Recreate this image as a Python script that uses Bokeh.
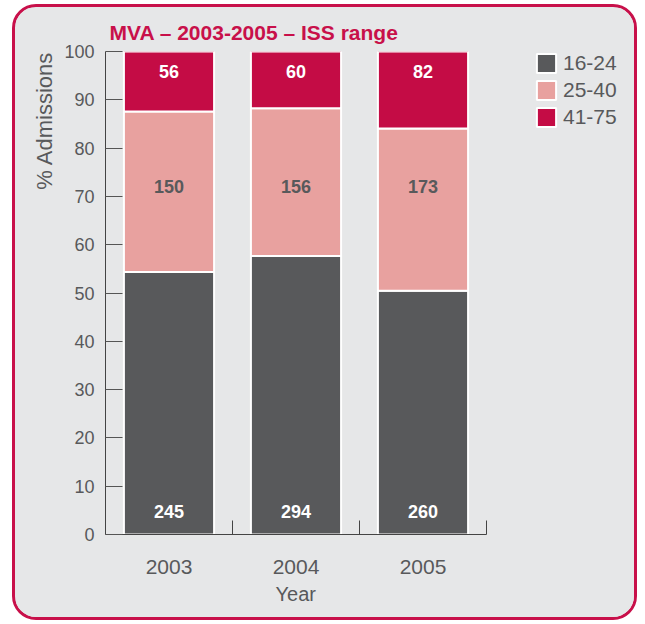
import math
from bokeh.plotting import figure
from bokeh.models import (Range1d, FixedTicker, Legend, LegendItem, Title, ColumnDataSource)
from bokeh.core.properties import value
from bokeh.embed import file_html
from bokeh.resources import INLINE

# ---- data ----
years = ["2003", "2004", "2005"]
groups = ["16-24", "25-40", "41-75"]
count_16_24 = [245, 294, 260]
count_25_40 = [150, 156, 173]
count_41_75 = [56, 60, 82]
y_ticks = [0, 10, 20, 30, 40, 50, 60, 70, 80, 90, 100]

FONT = value("Liberation Sans")
BG = "#e6e7e8"
DARK = "#58595b"
PINK = "#e8a19f"
CRIMSON = "#c40c45"
TXT = "#58595b"

n = len(years)
totals = [a + b + c for a, b, c in zip(count_16_24, count_25_40, count_41_75)]
xpos = [i + 0.5 for i in range(n)]
src = ColumnDataSource(dict(
    x=xpos,
    p1=[100.0 * a / t for a, t in zip(count_16_24, totals)],
    p2=[100.0 * b / t for b, t in zip(count_25_40, totals)],
    p3=[100.0 * c / t for c, t in zip(count_41_75, totals)],
    c1=[str(v) for v in count_16_24],
    c2=[str(v) for v in count_25_40],
    c3=[str(v) for v in count_41_75],
))

# frame: 127 px per category; extended to the right to hold the legend
x_end = n * 521.0 / 381.0
p = figure(width=625, height=616, output_backend="svg", toolbar_location=None,
           x_range=Range1d(0, x_end), y_range=Range1d(0, 100),
           min_border_left=90, min_border_right=14, min_border_top=44, min_border_bottom=89,
           background_fill_color=BG, border_fill_color=BG, outline_line_color=None)
p.styles = {"margin-left": "12px", "margin-top": "4px", "border": "3px solid #c8104a",
            "border-radius": "24px", "overflow": "hidden", "background-color": BG}
p.grid.visible = False

rs = p.vbar_stack(["p1", "p2", "p3"], x="x", width=0.71, source=src,
                  color=[DARK, PINK, CRIMSON], line_color="white", line_width=2)

# bar value labels
p.text(x="x", y=95.8, text="c3", source=src, text_font=FONT, text_font_style="bold",
       text_font_size="18px", text_color="white", text_align="center", text_baseline="middle")
p.text(x="x", y=72.0, text="c2", source=src, text_font=FONT, text_font_style="bold",
       text_font_size="18px", text_color=TXT, text_align="center", text_baseline="middle")
p.text(x="x", y=4.7, text="c1", source=src, text_font=FONT, text_font_style="bold",
       text_font_size="18px", text_color="white", text_align="center", text_baseline="middle")

# y axis
ya = p.yaxis[0]
ya.ticker = FixedTicker(ticks=y_ticks)
ya.major_tick_in = 17
ya.major_tick_out = 0
ya.minor_tick_in = 0
ya.minor_tick_out = 0
ya.axis_line_color = "#444444"
ya.major_tick_line_color = "#555555"
ya.major_label_text_font = "Liberation Sans"
ya.major_label_text_font_size = "18px"
ya.major_label_text_color = TXT
ya.major_label_standoff = 11

# x axis
xa = p.xaxis[0]
xa.bounds = (0, n)
xa.ticker = FixedTicker(ticks=xpos, minor_ticks=[i + 1 for i in range(n)])
xa.major_label_overrides = {x: y for x, y in zip(xpos, years)}
xa.major_tick_in = 0
xa.major_tick_out = 0
xa.minor_tick_in = 14
xa.minor_tick_out = 0
xa.minor_tick_line_color = "#444444"
xa.axis_line_color = "#444444"
xa.major_label_text_font = "Liberation Sans"
xa.major_label_text_font_size = "21px"
xa.major_label_text_color = TXT
xa.major_label_standoff = 25

# x axis title, centred under the bars
p.add_layout(Title(text="Year", align="left", offset=170, standoff=8,
                   text_font="Liberation Sans", text_font_size="20px", text_font_style="normal",
                   text_color=TXT), "below")
# chart title
p.add_layout(Title(text="MVA \u2013 2003-2005 \u2013 ISS range", align="left", offset=4, standoff=16,
                   text_font="Liberation Sans", text_font_size="21px", text_font_style="bold",
                   text_color="#c8104a"), "above")
# y axis title (placed toward the top, as in the original)
p.add_layout(Title(text="% Admissions", align="right", offset=0, standoff=10,
                   text_font="Liberation Sans", text_font_size="22px", text_font_style="normal",
                   text_color=TXT), "left")

legend = Legend(items=[LegendItem(label=g, renderers=[r]) for g, r in zip(groups, rs)],
                location=(429, 405), orientation="vertical",
                glyph_width=24, glyph_height=24, spacing=3, padding=0, margin=0,
                label_standoff=5, label_text_font="Liberation Sans", label_text_font_size="21px",
                label_text_color=TXT, label_height=24,
                background_fill_alpha=0, border_line_color=None)
p.add_layout(legend)

open("out.html", "w").write(file_html(p, INLINE))
